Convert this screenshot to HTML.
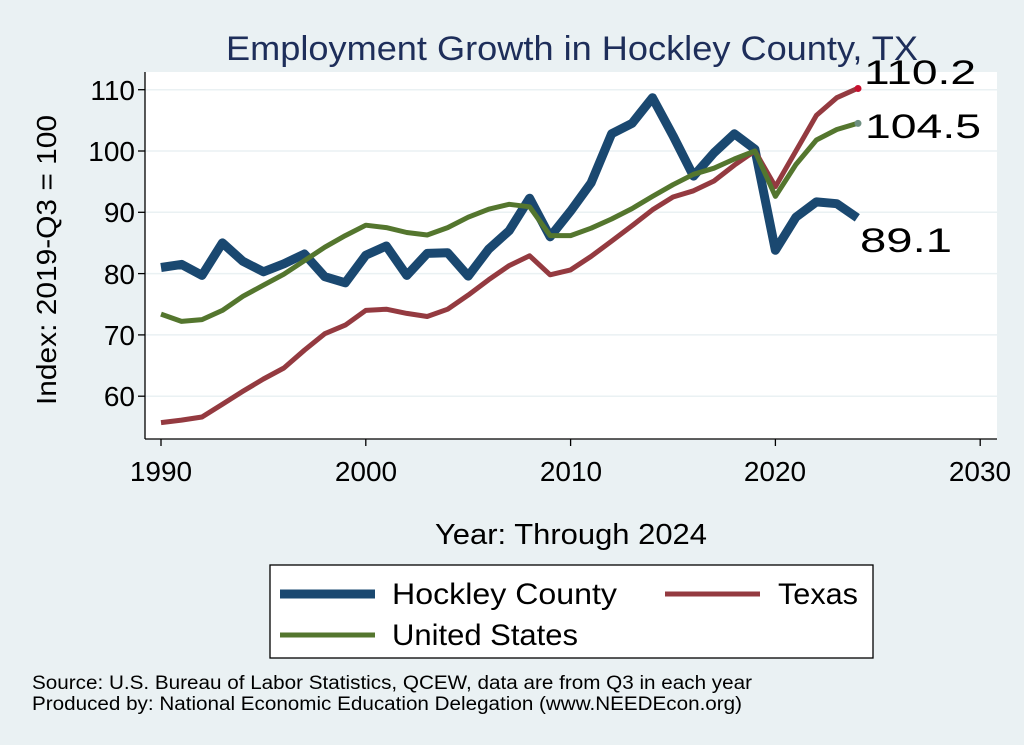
<!DOCTYPE html>
<html><head><meta charset="utf-8"><style>
html,body{margin:0;padding:0;background:#eaf1f3;}
svg{display:block;font-family:"Liberation Sans",Arial,sans-serif;}
</style></head><body>
<svg id="s" width="1024" height="745" viewBox="0 0 1024 745" xmlns="http://www.w3.org/2000/svg">
<rect width="1024" height="745" fill="#eaf1f3"/>
<rect x="145" y="72" width="852" height="367" fill="#fff"/>
<g stroke="#eaf1f3" stroke-width="1.5">
<line x1="145" x2="997" y1="89.7" y2="89.7"/><line x1="145" x2="997" y1="151" y2="151"/>
<line x1="145" x2="997" y1="212.3" y2="212.3"/><line x1="145" x2="997" y1="273.6" y2="273.6"/>
<line x1="145" x2="997" y1="334.9" y2="334.9"/><line x1="145" x2="997" y1="396.2" y2="396.2"/>
</g>
<g stroke="#000" stroke-width="1.3">
<line x1="145" y1="72" x2="145" y2="439"/><line x1="145" y1="439" x2="997" y2="439"/>
<line x1="138" x2="145" y1="89.7" y2="89.7"/><line x1="138" x2="145" y1="151" y2="151"/>
<line x1="138" x2="145" y1="212.3" y2="212.3"/><line x1="138" x2="145" y1="273.6" y2="273.6"/>
<line x1="138" x2="145" y1="334.9" y2="334.9"/><line x1="138" x2="145" y1="396.2" y2="396.2"/>
<line x1="161" x2="161" y1="439" y2="446"/><line x1="365.8" x2="365.8" y1="439" y2="446"/>
<line x1="570.6" x2="570.6" y1="439" y2="446"/><line x1="775.4" x2="775.4" y1="439" y2="446"/>
<line x1="980.2" x2="980.2" y1="439" y2="446"/>
</g>
<g font-size="28" text-anchor="end" fill="#000">
<text x="135" y="100">110</text><text x="135" y="161">100</text><text x="135" y="222">90</text>
<text x="135" y="284">80</text><text x="135" y="345">70</text><text x="135" y="406">60</text>
</g>
<g font-size="28" text-anchor="middle" fill="#000">
<text x="161" y="481">1990</text><text x="366" y="481">2000</text><text x="571" y="481">2010</text>
<text x="775" y="481">2020</text><text x="980" y="481">2030</text>
</g>
<text x="226" y="60" font-size="34" textLength="692" lengthAdjust="spacingAndGlyphs" fill="#1e2e5a">Employment Growth in Hockley County, TX</text>
<text transform="translate(56,405) rotate(-90)" font-size="28" textLength="290" lengthAdjust="spacingAndGlyphs">Index: 2019-Q3 = 100</text>
<text x="435" y="544" font-size="29" textLength="272" lengthAdjust="spacingAndGlyphs">Year: Through 2024</text>
<g id="lines" fill="none" stroke-linejoin="round"></g>
<circle cx="858" cy="88.5" r="3.5" fill="#c8102e"/>
<circle cx="858" cy="123.4" r="3.5" fill="#6d8f7f"/>
<g font-size="34" fill="#000">
<text x="864" y="84" textLength="112" lengthAdjust="spacingAndGlyphs">110.2</text>
<text x="865" y="138" textLength="116" lengthAdjust="spacingAndGlyphs">104.5</text>
<text x="860" y="252" textLength="92" lengthAdjust="spacingAndGlyphs">89.1</text>
</g>
<rect x="270" y="565" width="603" height="93" fill="#fff" stroke="#000" stroke-width="1.3"/>
<line x1="280" x2="375" y1="594" y2="594" stroke="#1a4870" stroke-width="9"/>
<line x1="665" x2="760" y1="594" y2="594" stroke="#943a40" stroke-width="5"/>
<line x1="280" x2="375" y1="635" y2="635" stroke="#54762e" stroke-width="5"/>
<g font-size="30" fill="#000">
<text x="392" y="604" textLength="225" lengthAdjust="spacingAndGlyphs">Hockley  County</text>
<text x="778" y="604" textLength="80" lengthAdjust="spacingAndGlyphs">Texas</text>
<text x="392" y="645" textLength="186" lengthAdjust="spacingAndGlyphs">United States</text>
</g>
<g font-size="19" fill="#000">
<text x="32" y="689" textLength="720" lengthAdjust="spacingAndGlyphs">Source: U.S. Bureau of Labor Statistics, QCEW, data are from Q3 in each year</text>
<text x="32" y="710" textLength="710" lengthAdjust="spacingAndGlyphs">Produced by: National Economic Education Delegation (www.NEEDEcon.org)</text>
</g>
</svg>
<script>
var H=[81,81.5,79.7,85,82,80.3,81.6,83.2,79.5,78.5,83,84.5,79.7,83.3,83.4,79.6,84,87,92.3,86,90.2,94.8,102.8,104.5,108.7,102.5,95.9,99.7,102.8,100.3,83.8,89.2,91.7,91.4,89.1];
var T=[55.7,56.1,56.6,58.7,60.8,62.8,64.6,67.5,70.2,71.6,74,74.2,73.5,73,74.2,76.5,79,81.3,82.9,79.8,80.6,82.8,85.3,87.8,90.4,92.5,93.5,95.1,97.7,100,94.2,100,105.8,108.7,110.2];
var U=[73.4,72.2,72.5,74,76.3,78.1,79.9,82.1,84.3,86.2,87.9,87.5,86.7,86.3,87.5,89.2,90.5,91.3,90.9,86.2,86.2,87.4,88.9,90.6,92.6,94.5,96.2,97.2,98.7,100,92.6,97.8,101.8,103.5,104.5];
function pts(a){return a.map(function(v,i){return (161+i*20.48).toFixed(1)+","+(396.2-(v-60)*6.13).toFixed(1)}).join(" ");}
var g=document.getElementById("lines"),ns="http://www.w3.org/2000/svg";
[[H,"#1a4870",9],[T,"#943a40",5],[U,"#54762e",5]].forEach(function(d){
var p=document.createElementNS(ns,"polyline");p.setAttribute("points",pts(d[0]));p.setAttribute("stroke",d[1]);p.setAttribute("stroke-width",d[2]);g.appendChild(p);});
</script>
</body></html>
